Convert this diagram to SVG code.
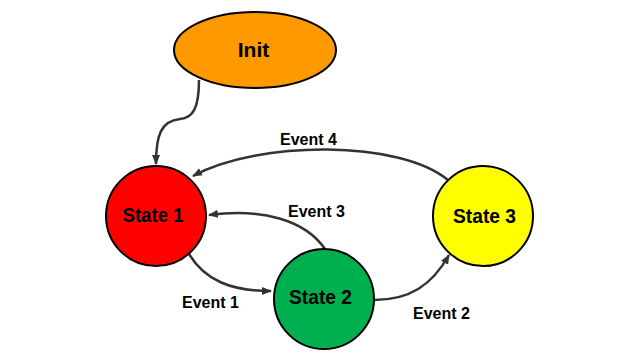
<svg xmlns="http://www.w3.org/2000/svg" width="640" height="360" viewBox="0 0 640 360">
<defs>
<style>
.node{stroke:#000;stroke-width:2}
.lbl{font-family:"Liberation Sans",Arial,sans-serif;font-weight:bold;fill:#000;text-anchor:middle}
.nt{font-size:20px}
.et{font-size:16px}
.edge{fill:none;stroke:#333;stroke-width:2.5}
</style>
<marker id="arr" markerUnits="userSpaceOnUse" markerWidth="10" markerHeight="10" refX="9" refY="5" orient="auto">
<path d="M0,1 L10,5 L0,9 Z" fill="#333"/>
</marker>
</defs>
<rect width="640" height="360" fill="#fff"/>
<g id="connectors">
<path class="edge" marker-end="url(#arr)" d="M199,80 C199,108 193,118 180,119 C161,121 156,135 156,164"/>
<path class="edge" marker-end="url(#arr)" d="M448,180 C400,140 260,140 193,176"/>
<path class="edge" marker-end="url(#arr)" d="M325,249 C305,220 262,208 209,215"/>
<path class="edge" marker-end="url(#arr)" d="M189,254 C205,280 230,291 271,291"/>
<path class="edge" marker-end="url(#arr)" d="M374,300 C410,300 432,285 449,255"/>
</g>
<g id="labels">
<text class="lbl et" x="308.5" y="145">Event 4</text>
<text class="lbl et" x="316.5" y="217">Event 3</text>
<text class="lbl et" x="210.5" y="308">Event 1</text>
<text class="lbl et" x="441.5" y="319">Event 2</text>
</g>
<g id="init">
<ellipse class="node" cx="255" cy="50" rx="81" ry="38" fill="#FF9900"/>
<text class="lbl" x="253.5" y="57" font-size="21">Init</text>
</g>
<g id="state1">
<circle class="node" cx="156" cy="216" r="50" fill="#FF0000"/>
<text class="lbl nt" x="153" y="222" textLength="61" lengthAdjust="spacingAndGlyphs">State 1</text>
</g>
<g id="state2">
<circle class="node" cx="324" cy="299" r="50" fill="#00B050"/>
<text class="lbl nt" x="320.5" y="304" textLength="63" lengthAdjust="spacingAndGlyphs">State 2</text>
</g>
<g id="state3">
<circle class="node" cx="483" cy="216" r="50" fill="#FFFF00"/>
<text class="lbl nt" x="484.5" y="223" textLength="63" lengthAdjust="spacingAndGlyphs">State 3</text>
</g>
</svg>
